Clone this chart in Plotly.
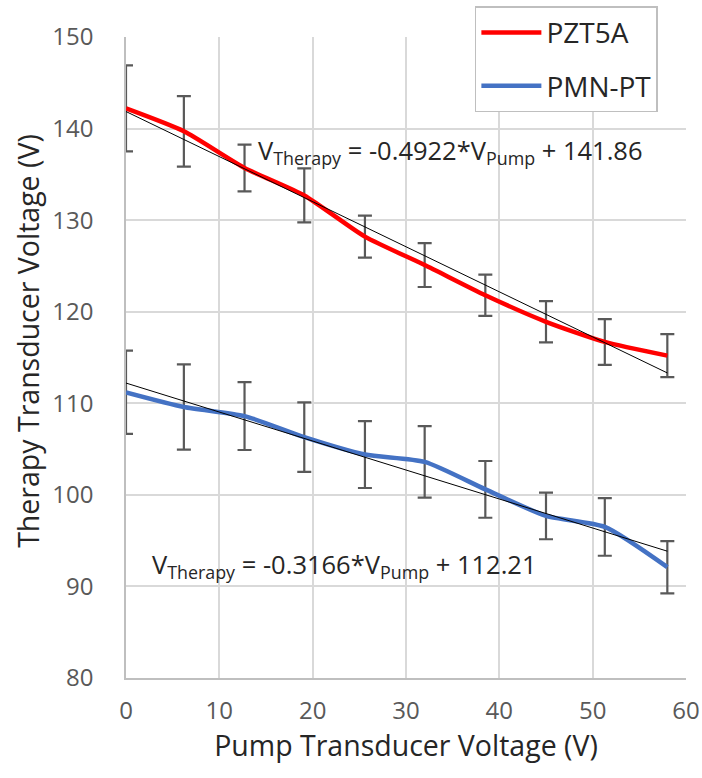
import plotly.graph_objects as go

pump_v = [0, 6.2, 12.7, 19.1, 25.6, 32.0, 38.5, 45.0, 51.3, 58.0]
pzt5a = [142.2, 139.7, 135.7, 132.7, 128.2, 125.1, 121.8, 118.9, 116.7, 115.2]
pzt5a_err = [4.7, 3.85, 2.55, 2.95, 2.3, 2.4, 2.25, 2.25, 2.5, 2.35]
pmnpt = [111.2, 109.6, 108.6, 106.3, 104.4, 103.6, 100.6, 97.7, 96.5, 92.1]
pmnpt_err = [4.55, 4.65, 3.7, 3.8, 3.65, 3.9, 3.1, 2.55, 3.15, 2.85]
fit_x = [0, 58.0]
pzt_slope, pzt_icpt = -0.4922, 141.86
pmn_slope, pmn_icpt = -0.3166, 112.21

FONT = "Open Sans"
ERRC = "#595959"

fig = go.Figure()
for ys, err, name, color in [(pzt5a, pzt5a_err, "PZT5A", "#ff0000"),
                              (pmnpt, pmnpt_err, "PMN-PT", "#4472c4")]:
    fig.add_trace(go.Scatter(
        x=pump_v, y=ys, name=name, mode="lines", legendgroup=name,
        line=dict(color=color, width=4.5, shape="spline", smoothing=0.6),
        error_y=dict(type="data", array=err, visible=True, color=ERRC,
                     thickness=2.2, width=7),
    ))

for slope, icpt in [(pzt_slope, pzt_icpt), (pmn_slope, pmn_icpt)]:
    fig.add_trace(go.Scatter(
        x=fit_x, y=[slope * v + icpt for v in fit_x], mode="lines",
        line=dict(color="#000000", width=1), showlegend=False, hoverinfo="skip"))

fig.add_annotation(x=0.58, y=0.822, xref="paper", yref="paper", xanchor="center",
                   yanchor="middle",
                   text="V<sub>Therapy</sub> = -0.4922*V<sub>Pump</sub> + 141.86",
                   showarrow=False, font=dict(family=FONT, size=25.5, color="#262626"))
fig.add_annotation(x=0.39, y=0.175, xref="paper", yref="paper", xanchor="center",
                   yanchor="middle",
                   text="V<sub>Therapy</sub> = -0.3166*V<sub>Pump</sub> + 112.21",
                   showarrow=False, font=dict(family=FONT, size=25.5, color="#262626"))
fig.add_annotation(x=-0.175, y=0.526, xref="paper", yref="paper", xanchor="center",
                   yanchor="middle", textangle=-90,
                   text="Therapy Transducer Voltage (V)",
                   showarrow=False, font=dict(family=FONT, size=28.5, color="#262626"))

fig.update_layout(
    width=702, height=778,
    margin=dict(l=126, r=16, t=37, b=100, autoexpand=False),
    plot_bgcolor="white", paper_bgcolor="white",
    font=dict(family=FONT, color="#595959"),
    legend=dict(x=0.623, y=1.048, xanchor="left", yanchor="top",
                bgcolor="white", bordercolor="#bfbfbf", borderwidth=1.5,
                font=dict(size=28, color="#262626"), itemwidth=60,
                tracegroupgap=14),
    xaxis=dict(range=[0, 60], dtick=10, showgrid=True, gridcolor="#d9d9d9",
               gridwidth=1.5, zeroline=False, showline=True, linecolor="#bfbfbf",
               linewidth=1.5, ticks="", tickfont=dict(size=24, color="#595959"),
               ticklabelstandoff=10,
               title=dict(text="Pump Transducer Voltage (V)",
                          font=dict(size=28.5, color="#262626"), standoff=8)),
    yaxis=dict(range=[80, 150], dtick=10, showgrid=True, gridcolor="#d9d9d9",
               gridwidth=1.5, zeroline=False, showline=True, linecolor="#bfbfbf",
               linewidth=1.5, ticks="", tickfont=dict(size=24, color="#595959"),
               ticklabelstandoff=26),
)

fig.write_html("out.html")
